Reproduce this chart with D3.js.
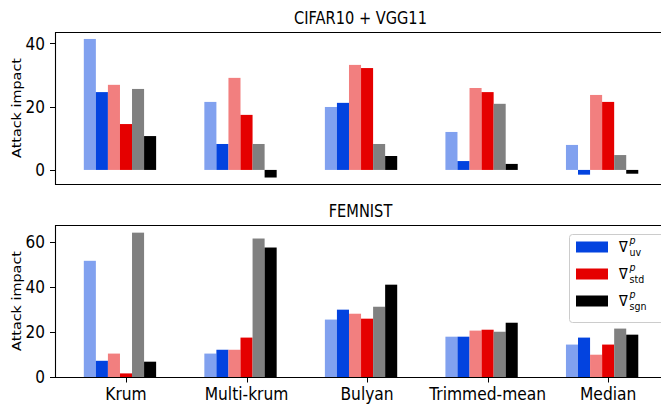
<!DOCTYPE html>
<html>
<head>
<meta charset="utf-8">
<script src="https://cdn.jsdelivr.net/npm/d3@7"></script>
<style>
  body { margin: 0; background: #fff; }
  text { font-family: "DejaVu Sans", sans-serif; fill: #000; }
</style>
</head>
<body>
<svg id="chart" width="661" height="404"></svg>
<script>
// categories on the x axis
const categories = ["Krum", "Multi-krum", "Bulyan", "Trimmed-mean", "Median"]

// CIFAR10 + VGG11 values
const cifar_uv_light  = [41.4, 21.5, 19.9, 12.0, 7.9]
const cifar_uv        = [24.6, 8.2, 21.2, 2.8, -1.5]
const cifar_std_light = [26.9, 29.1, 33.2, 25.9, 23.7]
const cifar_std       = [14.5, 17.4, 32.2, 24.6, 21.5]
const cifar_sgn_light = [25.6, 8.2, 8.2, 20.9, 4.7]
const cifar_sgn       = [10.7, -2.4, 4.4, 1.9, -1.2]

// FEMNIST values
const femnist_uv_light  = [51.6, 10.4, 25.5, 17.9, 14.4]
const femnist_uv        = [7.2, 12.1, 29.9, 17.9, 17.5]
const femnist_std_light = [10.4, 12.1, 28.1, 20.6, 9.9]
const femnist_std       = [1.6, 17.5, 25.9, 21.0, 14.4]
const femnist_sgn_light = [64.1, 61.5, 31.2, 20.1, 21.5]
const femnist_sgn       = [6.8, 57.5, 41.0, 24.1, 18.8]

// tick labels
const cifar_ticks = [0, 20, 40]
const femnist_ticks = [0, 20, 40, 60]
const legend_subs = ["uv", "std", "sgn"]

const colors = ["#81a1ef", "#0343df", "#f27f7f", "#e50000", "#808080", "#000000"]
const legend_colors = ["#0343df", "#e50000", "#000000"]

// the picture is a little taller than wide, so text gets stretched vertically
const sy = 1.16

const svg = d3.select("#chart")

const x = d3.scaleLinear().domain([-0.589, 4.48]).range([55, 666])
const bar_w = 0.1

const panels = [
  {
    title: "CIFAR10 + VGG11",
    series: [cifar_uv_light, cifar_uv, cifar_std_light, cifar_std, cifar_sgn_light, cifar_sgn],
    ticks: cifar_ticks,
    y: d3.scaleLinear().domain([-4.45, 43.6]).range([184, 32]),
    top: 32, bottom: 184, title_y: 24, xlabels: false
  },
  {
    title: "FEMNIST",
    series: [femnist_uv_light, femnist_uv, femnist_std_light, femnist_std, femnist_sgn_light, femnist_sgn],
    ticks: femnist_ticks,
    y: d3.scaleLinear().domain([0, 67.5]).range([377, 225]),
    top: 225, bottom: 377, title_y: 217, xlabels: true
  }
]

for (const p of panels) {
  const g = svg.append("g")

  // bars
  p.series.forEach((vals, i) => {
    g.append("g")
      .selectAll("rect")
      .data(vals).enter()
      .append("rect")
      .attr("x", (d, j) => x(j + (i - 3) * bar_w - bar_w / 2))
      .attr("width", x(bar_w) - x(0))
      .attr("y", d => p.y(Math.max(0, d)))
      .attr("height", d => Math.abs(p.y(0) - p.y(d)))
      .attr("fill", colors[i])
  })

  // spines
  g.append("path")
    .attr("d", `M670,${p.top + 0.5}H55.5V${p.bottom + 0.5}H670`)
    .attr("fill", "none")
    .attr("stroke", "#000")
    .attr("stroke-width", 1.1)

  // y axis ticks
  const yt = g.append("g")
  yt.selectAll("line")
    .data(p.ticks).enter()
    .append("line")
    .attr("x1", 50).attr("x2", 55.5)
    .attr("y1", d => Math.round(p.y(d)) + 0.5)
    .attr("y2", d => Math.round(p.y(d)) + 0.5)
    .attr("stroke", "#000")
  yt.selectAll("text")
    .data(p.ticks).enter()
    .append("text")
    .attr("transform", d => `translate(45,${p.y(d)}) scale(1,${sy})`)
    .attr("dy", "0.36em")
    .attr("text-anchor", "end")
    .style("font-size", "15.3px")
    .text(d => d)

  // x axis ticks
  if (p.xlabels) {
    const xt = g.append("g")
    xt.selectAll("line")
      .data(categories).enter()
      .append("line")
      .attr("x1", (d, j) => Math.round(x(j)) + 0.5)
      .attr("x2", (d, j) => Math.round(x(j)) + 0.5)
      .attr("y1", p.bottom).attr("y2", p.bottom + 5.5)
      .attr("stroke", "#000")
    xt.selectAll("text")
      .data(categories).enter()
      .append("text")
      .attr("transform", (d, j) => `translate(${x(j)},${p.bottom + 23}) scale(1,${sy})`)
      .attr("text-anchor", "middle")
      .style("font-size", "15.5px")
      .text(d => d)
  }

  // title
  g.append("text")
    .attr("transform", `translate(${(55 + 666) / 2},${p.title_y}) scale(1,${sy})`)
    .attr("text-anchor", "middle")
    .style("font-size", "14.6px")
    .text(p.title)

  // y label
  g.append("text")
    .attr("transform", `translate(20.5,${(p.top + p.bottom) / 2}) scale(1,${sy}) rotate(-90)`)
    .attr("text-anchor", "middle")
    .style("font-size", "12.4px")
    .text("Attack impact")
}

// legend
const lg = svg.append("g")
lg.append("rect")
  .attr("x", 569.5).attr("y", 234.5)
  .attr("width", 95).attr("height", 88)
  .attr("rx", 3)
  .attr("fill", "#fff").attr("fill-opacity", 0.8)
  .attr("stroke", "#cccccc")

legend_subs.forEach((s, i) => {
  const ly = 241.5 + i * 27
  lg.append("rect")
    .attr("x", 576).attr("y", ly)
    .attr("width", 32).attr("height", 11)
    .attr("fill", legend_colors[i])
  const t = lg.append("g")
    .attr("transform", `translate(619,${ly + 10.5}) scale(1,${sy})`)
    .append("text")
    .style("font-size", "13px")
  t.append("tspan").text("\u2207")
  t.append("tspan")
    .attr("x", 10.5).attr("dy", -6.5)
    .style("font-size", "9.5px")
    .style("font-style", "italic")
    .text("p")
  t.append("tspan")
    .attr("x", 10.5).attr("dy", 10)
    .style("font-size", "9.5px")
    .text(s)
})
</script>
</body>
</html>
